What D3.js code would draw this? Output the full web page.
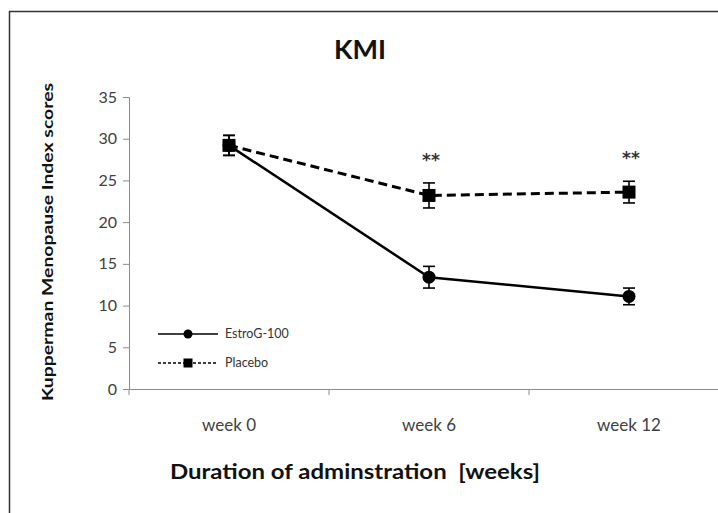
<!DOCTYPE html>
<html>
<head>
<meta charset="utf-8">
<script src="https://cdn.jsdelivr.net/npm/d3@7"></script>
<style>
  body { margin: 0; background: #fff; }
  text { font-family: Lato, "Open Sans", sans-serif; }
</style>
</head>
<body>
<div id="chart"></div>
<script>
var weeks = ['week 0', 'week 6', 'week 12'];
var estroMean = [29.2, 13.4, 11.1];
var estroErr = [1.2, 1.3, 1.0];
var placeboMean = [29.2, 23.2, 23.6];
var placeboErr = [1.2, 1.5, 1.3];
var signif = ['', '**', '**'];
var yTicks = [0, 5, 10, 15, 20, 25, 30, 35];

var width = 718, height = 513;

var svg = d3.select('#chart').append('svg')
            .attr('width', width).attr('height', height);

// frame (runs off the right/bottom edge like the original crop)
svg.append('rect')
   .attr('x', 9.5).attr('y', 11.5)
   .attr('width', 800).attr('height', 600)
   .attr('fill', 'none').attr('stroke', '#333').attr('stroke-width', 1.5);

var x = d3.scaleBand().domain(weeks).range([129, 729]);
var y = d3.scaleLinear().domain([0, 35]).range([389, 97]);

function cx(w) { return x(w) + x.bandwidth() / 2; }

// y axis
var yAxis = svg.append('g').attr('transform', 'translate(129,0)')
    .call(d3.axisLeft(y).tickValues(yTicks).tickSize(6).tickPadding(6));
yAxis.select('.domain').attr('stroke', '#8c8c8c');
yAxis.selectAll('.tick line').attr('stroke', '#8c8c8c');
yAxis.selectAll('.tick text').attr('fill', '#404040')
     .style('font-size', '16px').style('font-family', 'Lato, sans-serif');

// x axis
var xAxis = svg.append('g').attr('transform', 'translate(0,389)')
    .call(d3.axisBottom(x).tickSize(0).tickPadding(30));
xAxis.select('.domain').attr('stroke', '#8c8c8c');
xAxis.selectAll('.tick text').attr('fill', '#404040')
     .style('font-size', '17px').style('font-family', 'Lato, sans-serif');
svg.append('g').selectAll('line')
   .data(weeks.map(function(w) { return x(w); }).concat([x.range()[1]]))
   .enter().append('line')
   .attr('x1', function(d) { return d; }).attr('x2', function(d) { return d; })
   .attr('y1', 389).attr('y2', 395)
   .attr('stroke', '#8c8c8c');

// titles
svg.append('text').attr('x', 360).attr('y', 59)
   .attr('text-anchor', 'middle').style('font-size', '27px').style('font-weight', 'bold')
   .attr('fill', '#111').text('KMI');

svg.append('text').attr('transform', 'translate(53,242) rotate(-90)')
   .attr('text-anchor', 'middle').style('font-size', '16px').style('font-weight', 'bold')
   .attr('textLength', 318).attr('lengthAdjust', 'spacingAndGlyphs')
   .attr('fill', '#111').text('Kupperman Menopause Index scores');

svg.append('text').attr('x', 355).attr('y', 479)
   .attr('text-anchor', 'middle').style('font-size', '20px').style('font-weight', 'bold')
   .style('white-space', 'pre')
   .attr('textLength', 370).attr('lengthAdjust', 'spacingAndGlyphs')
   .attr('fill', '#111').text('Duration of adminstration  [weeks]');

var line = d3.line().x(function(d) { return cx(d.w); }).y(function(d) { return y(d.v); });

function series(means, errs) {
    return weeks.map(function(w, i) { return { w: w, v: means[i], e: errs[i] }; });
}
var placebo = series(placeboMean, placeboErr);
var estro = series(estroMean, estroErr);

function errorBars(data) {
    var g = svg.append('g').attr('stroke', '#000').attr('stroke-width', 1.6);
    data.forEach(function(d) {
        var px = cx(d.w);
        g.append('line').attr('x1', px).attr('x2', px)
         .attr('y1', y(d.v + d.e)).attr('y2', y(d.v - d.e));
        [d.v + d.e, d.v - d.e].forEach(function(v) {
            g.append('line').attr('x1', px - 6).attr('x2', px + 6)
             .attr('y1', y(v)).attr('y2', y(v));
        });
    });
}

// placebo: dashed with squares
svg.append('path').datum(placebo).attr('d', line)
   .attr('fill', 'none').attr('stroke', '#000').attr('stroke-width', 3)
   .attr('stroke-dasharray', '9,5');
errorBars(placebo);
svg.append('g').selectAll('rect').data(placebo).enter().append('rect')
   .attr('x', function(d) { return cx(d.w) - 6.5; })
   .attr('y', function(d) { return y(d.v) - 6.5; })
   .attr('width', 13).attr('height', 13).attr('fill', '#000');

// estroG: solid with circles
svg.append('path').datum(estro).attr('d', line)
   .attr('fill', 'none').attr('stroke', '#000').attr('stroke-width', 2.5);
errorBars(estro);
svg.append('g').selectAll('circle').data(estro).enter().append('circle')
   .attr('cx', function(d) { return cx(d.w); })
   .attr('cy', function(d) { return y(d.v); })
   .attr('r', 6.5).attr('fill', '#000');

// significance markers
svg.append('g').selectAll('text').data(placebo).enter().append('text')
   .attr('x', function(d) { return cx(d.w) + 2; })
   .attr('y', function(d) { return y(d.v + d.e) - 17; })
   .attr('text-anchor', 'middle')
   .style('font-family', '"DejaVu Sans", sans-serif')
   .style('font-size', '17px').style('font-weight', 'bold').attr('fill', '#333')
   .text(function(d, i) { return signif[i]; });

// legend
var legend = svg.append('g');
legend.append('line').attr('x1', 158).attr('x2', 218).attr('y1', 334).attr('y2', 334)
      .attr('stroke', '#000').attr('stroke-width', 1.3);
legend.append('circle').attr('cx', 188).attr('cy', 334).attr('r', 4.5).attr('fill', '#000');
legend.append('text').attr('x', 225).attr('y', 338).style('font-size', '12.5px')
      .attr('fill', '#333').text('EstroG-100');
legend.append('line').attr('x1', 158).attr('x2', 218).attr('y1', 363).attr('y2', 363)
      .attr('stroke', '#000').attr('stroke-width', 1.3).attr('stroke-dasharray', '3,2');
legend.append('rect').attr('x', 183.5).attr('y', 358.5).attr('width', 9).attr('height', 9)
      .attr('fill', '#000');
legend.append('text').attr('x', 225).attr('y', 367).style('font-size', '12.5px')
      .attr('fill', '#333').text('Placebo');
</script>
</body>
</html>
